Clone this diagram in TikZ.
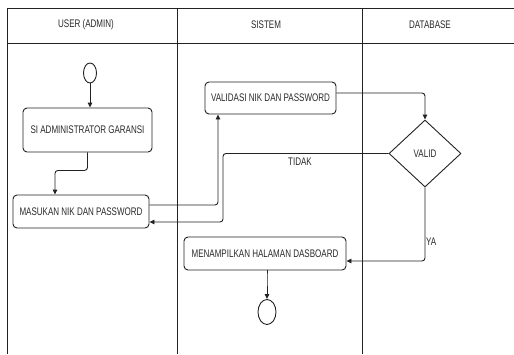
\documentclass[tikz,border=0pt]{standalone}
\usepackage{fontspec}
\setmainfont[FakeStretch=0.73]{Liberation Sans}
\usetikzlibrary{shapes.geometric,arrows.meta}
\definecolor{ln}{HTML}{222222}
\definecolor{tx}{HTML}{2A2A2A}
\begin{document}
\begin{tikzpicture}[x=1pt,y=-1pt,
  every node/.style={font=\fontsize{11}{13}\selectfont, text=tx},
  act/.style={draw=ln, line width=0.9pt, rounded corners=4pt, inner sep=0pt},
  dec/.style={draw=ln, line width=0.9pt, diamond, inner sep=0pt, minimum width=72pt, minimum height=67pt},
  term/.style={draw=ln, line width=0.9pt, ellipse, inner sep=0pt},
  arr/.style={draw=ln, line width=0.9pt, rounded corners=3pt, -{Triangle[length=5pt,width=4.5pt]}},
  lane/.style={draw=ln, line width=0.7pt}]
\useasboundingbox (0,0) rectangle (514,354);
\fill[white] (0,0) rectangle (514,354);
% swimlane frame
\draw[lane] (514,8) -- (7,8) -- (7,354);
\draw[lane] (7,43) -- (514,43);
\draw[lane] (177,8) -- (177,354);
\draw[lane] (362,8) -- (362,354);
\node (h1) at (86,25) {USER (ADMIN)};
\node (h2) at (266,25) {SISTEM};
\node (h3) at (430,25) {DATABASE};
% nodes
\node[term, minimum width=13pt, minimum height=20pt] (start) at (90,73) {};
\node[act, minimum width=129pt, minimum height=44pt] (b1) at (87.5,130) {SI ADMINISTRATOR GARANSI};
\node[act, minimum width=136pt, minimum height=33pt] (b2) at (81,211.5) {MASUKAN NIK DAN PASSWORD};
\node[act, minimum width=131pt, minimum height=32pt] (b3) at (270.5,98) {VALIDASI NIK DAN PASSWORD};
\node[dec] (d) at (425,153.5) {VALID};
\node[act, minimum width=162pt, minimum height=33pt] (b4) at (265,253.5) {MENAMPILKAN HALAMAN DASBOARD};
\node[term, minimum width=18pt, minimum height=25pt] (end) at (267,312) {};
% connectors
\draw[arr] (start) -- (start |- b1.north);
\draw[arr] (b1.south) -- ++(0,18) -| ([xshift=-26pt]b2.north);
\draw[arr] ([yshift=6.5pt]b2.east) -| ([xshift=-52.5pt]b3.south);
\draw[arr] ([yshift=5pt]b3.east) -| (d.north);
\coordinate (tk) at (223,153.5);
\draw[arr] (d.west) -- (tk) |- ([yshift=-10.5pt]b2.east);
\node (lt) at (300,162) {TIDAK};
\draw[arr] (d.south) |- ([yshift=-7.5pt]b4.east);
\node[anchor=west, inner sep=0pt] (ly) at (426,242) {YA};
\draw[arr, rounded corners=0.8pt] ([xshift=2pt]b4.south) -- ++(0,7) -| (end.north);
\end{tikzpicture}
\end{document}
